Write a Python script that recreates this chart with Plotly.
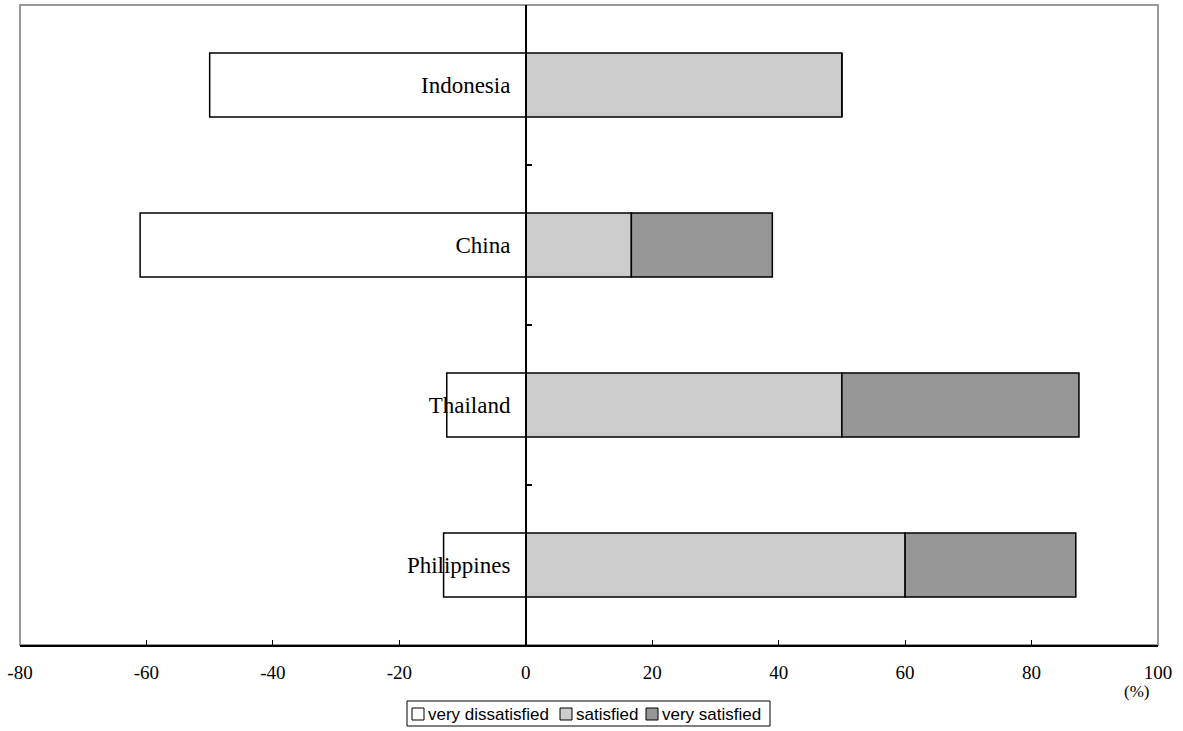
import plotly.graph_objects as go

# Survey results by country (%), negative = dissatisfied side
countries = ["Indonesia", "China", "Thailand", "Philippines"]
very_dissatisfied = [-50, -61, -12.5, -13]
satisfied = [50, 16.7, 50, 60]
very_satisfied = [0, 22.3, 37.5, 27]

x_ticks = [-80, -60, -40, -20, 0, 20, 40, 60, 80, 100]

SERIF = "Times New Roman, Liberation Serif, serif"
SANS = "Arial, Liberation Sans, sans-serif"

series = [
    ("very dissatisfied", very_dissatisfied, "#ffffff"),
    ("satisfied", satisfied, "#cccccc"),
    ("very satisfied", very_satisfied, "#969696"),
]

W, H = 1183, 731
ML, MR, MT, MB = 20, 25, 5, 86
PW, PH = W - ML - MR, H - MT - MB


def px_x(px):
    """pixel x -> paper fraction"""
    return (px - ML) / PW


def px_y(py):
    """pixel y (from top) -> paper fraction"""
    return (H - MB - py) / PH


fig = go.Figure()
for name, vals, color in series:
    fig.add_trace(go.Bar(
        y=countries, x=vals, name=name, orientation="h", width=0.4,
        marker=dict(color=color, line=dict(color="#000000", width=1.5)),
        hoverinfo="skip", showlegend=False,
    ))

# Frame around the plotting area
shapes = [dict(
    type="rect", xref="paper", yref="paper", x0=0, x1=1, y0=0, y1=1,
    line=dict(color="#999999", width=2), layer="below",
)]
annotations = [dict(
    text="(%)", xref="paper", yref="paper", x=0.9815, y=-0.072,
    xanchor="center", yanchor="middle", showarrow=False,
    font=dict(family=SERIF, size=17, color="#000"),
)]

# Boxed key below the axis
key_box = (407, 701, 770, 726)
key_swatch_x = [412, 560, 646]
shapes.append(dict(
    type="rect", xref="paper", yref="paper",
    x0=px_x(key_box[0]), x1=px_x(key_box[2]),
    y0=px_y(key_box[3]), y1=px_y(key_box[1]),
    line=dict(color="#000", width=1), fillcolor="white", layer="above",
))
for (name, _, color), sx in zip(series, key_swatch_x):
    shapes.append(dict(
        type="rect", xref="paper", yref="paper",
        x0=px_x(sx), x1=px_x(sx + 12), y0=px_y(720), y1=px_y(708),
        line=dict(color="#000", width=1), fillcolor=color, layer="above",
    ))
    annotations.append(dict(
        text=name, xref="paper", yref="paper", x=px_x(sx + 14), y=px_y(714),
        xanchor="left", yanchor="middle", showarrow=False,
        font=dict(family=SANS, size=17, color="#000"),
    ))

fig.update_layout(
    width=W, height=H,
    margin=dict(l=ML, r=MR, t=MT, b=MB, autoexpand=False),
    paper_bgcolor="white", plot_bgcolor="white",
    barmode="relative",
    showlegend=False,
    xaxis=dict(
        range=[-80, 100], tickvals=x_ticks, ticktext=[str(v) for v in x_ticks],
        showgrid=False, zeroline=False, automargin=False,
        showline=True, linecolor="#000", linewidth=1.5,
        ticks="inside", ticklen=5, tickcolor="#000", tickwidth=1,
        tickfont=dict(family=SERIF, size=19, color="#000"),
        ticklabelstandoff=9,
    ),
    yaxis=dict(
        type="category", categoryorder="array",
        categoryarray=list(reversed(countries)),
        range=[-0.5, 3.5], automargin=False,
        anchor="free", position=80 / 180, side="left",
        showgrid=False, zeroline=False,
        showline=True, linecolor="#000", linewidth=1.5,
        ticks="inside", tickson="boundaries", ticklen=5,
        tickcolor="#000", tickwidth=1.5,
        tickfont=dict(family=SERIF, size=23, color="#000"),
        ticklabelstandoff=10,
    ),
    shapes=shapes,
    annotations=annotations,
)

fig.write_html("out.html")
